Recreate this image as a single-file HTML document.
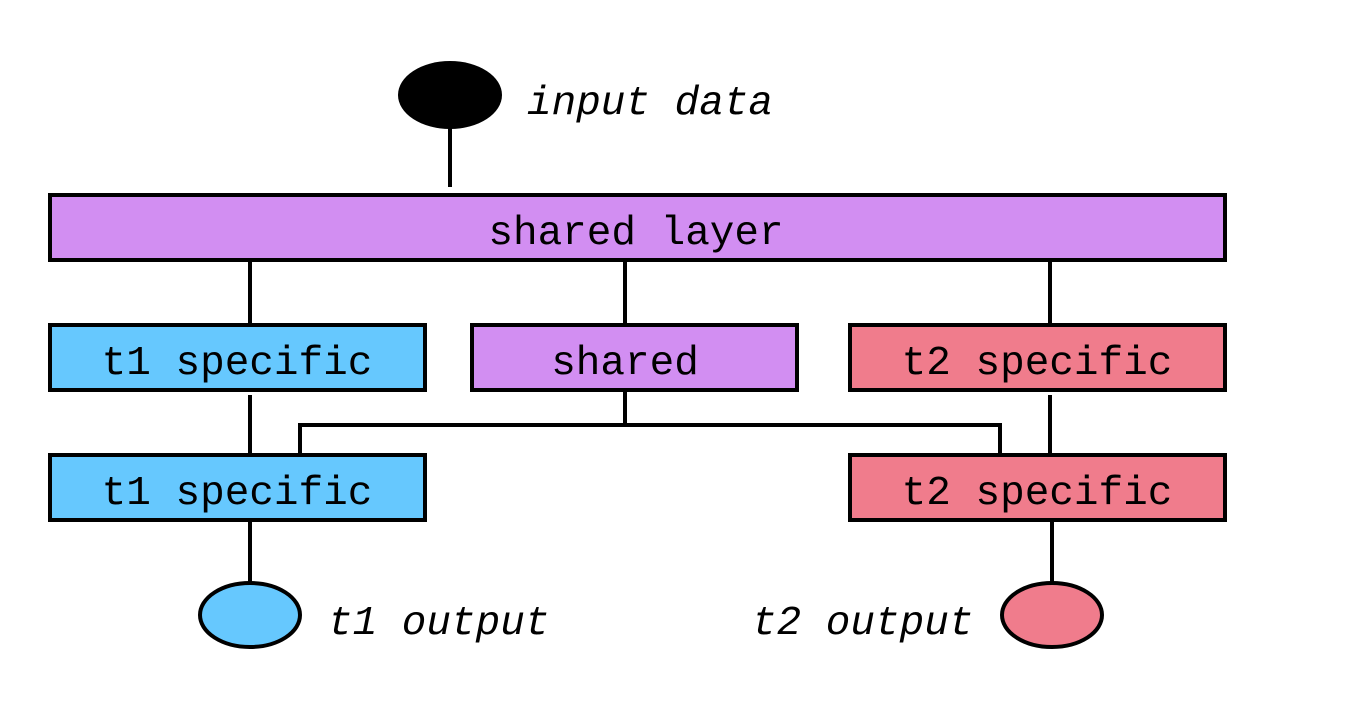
<!DOCTYPE html>
<html><head><meta charset="utf-8"><style>
html,body{margin:0;padding:0;background:#fff;}
svg{display:block}
text{font-family:"Liberation Mono",monospace;font-size:41px;fill:#000}
.i{font-style:italic}
</style></head><body>
<svg width="1350" height="715" viewBox="0 0 1350 715" xmlns="http://www.w3.org/2000/svg">
<g stroke="#000" stroke-width="4" fill="none">
<line x1="450" y1="125" x2="450" y2="187"/>
<line x1="250" y1="260" x2="250" y2="325"/>
<line x1="625" y1="260" x2="625" y2="325"/>
<line x1="1050" y1="260" x2="1050" y2="325"/>
<line x1="250" y1="395" x2="250" y2="455"/>
<line x1="1050" y1="395" x2="1050" y2="455"/>
<polyline points="625,390 625,425 300,425 300,455"/>
<polyline points="625,425 1000,425 1000,455"/>
<line x1="250" y1="520" x2="250" y2="583"/>
<line x1="1052" y1="520" x2="1052" y2="583"/>
</g>
<ellipse cx="450" cy="95" rx="52" ry="34" fill="#000"/>
<g stroke="#000" stroke-width="4">
<rect x="50" y="195" width="1175" height="65" fill="#d28ef2"/>
<rect x="50" y="325" width="375" height="65" fill="#66c8fe"/>
<rect x="472" y="325" width="325" height="65" fill="#d28ef2"/>
<rect x="850" y="325" width="375" height="65" fill="#f07c8c"/>
<rect x="50" y="455" width="375" height="65" fill="#66c8fe"/>
<rect x="850" y="455" width="375" height="65" fill="#f07c8c"/>
<ellipse cx="250" cy="615" rx="50" ry="32" fill="#66c8fe"/>
<ellipse cx="1052" cy="615" rx="50" ry="32" fill="#f07c8c"/>
</g>
<g text-anchor="middle">
<text x="636" y="244">shared layer</text>
<text x="237" y="374">t1 specific</text>
<text x="625" y="374">shared</text>
<text x="1037" y="374">t2 specific</text>
<text x="237" y="504">t1 specific</text>
<text x="1037" y="504">t2 specific</text>
</g>
<text class="i" x="527" y="114">input data</text>
<text class="i" x="328" y="634">t1 output</text>
<text class="i" x="752" y="634">t2 output</text>
</svg>
</body></html>
